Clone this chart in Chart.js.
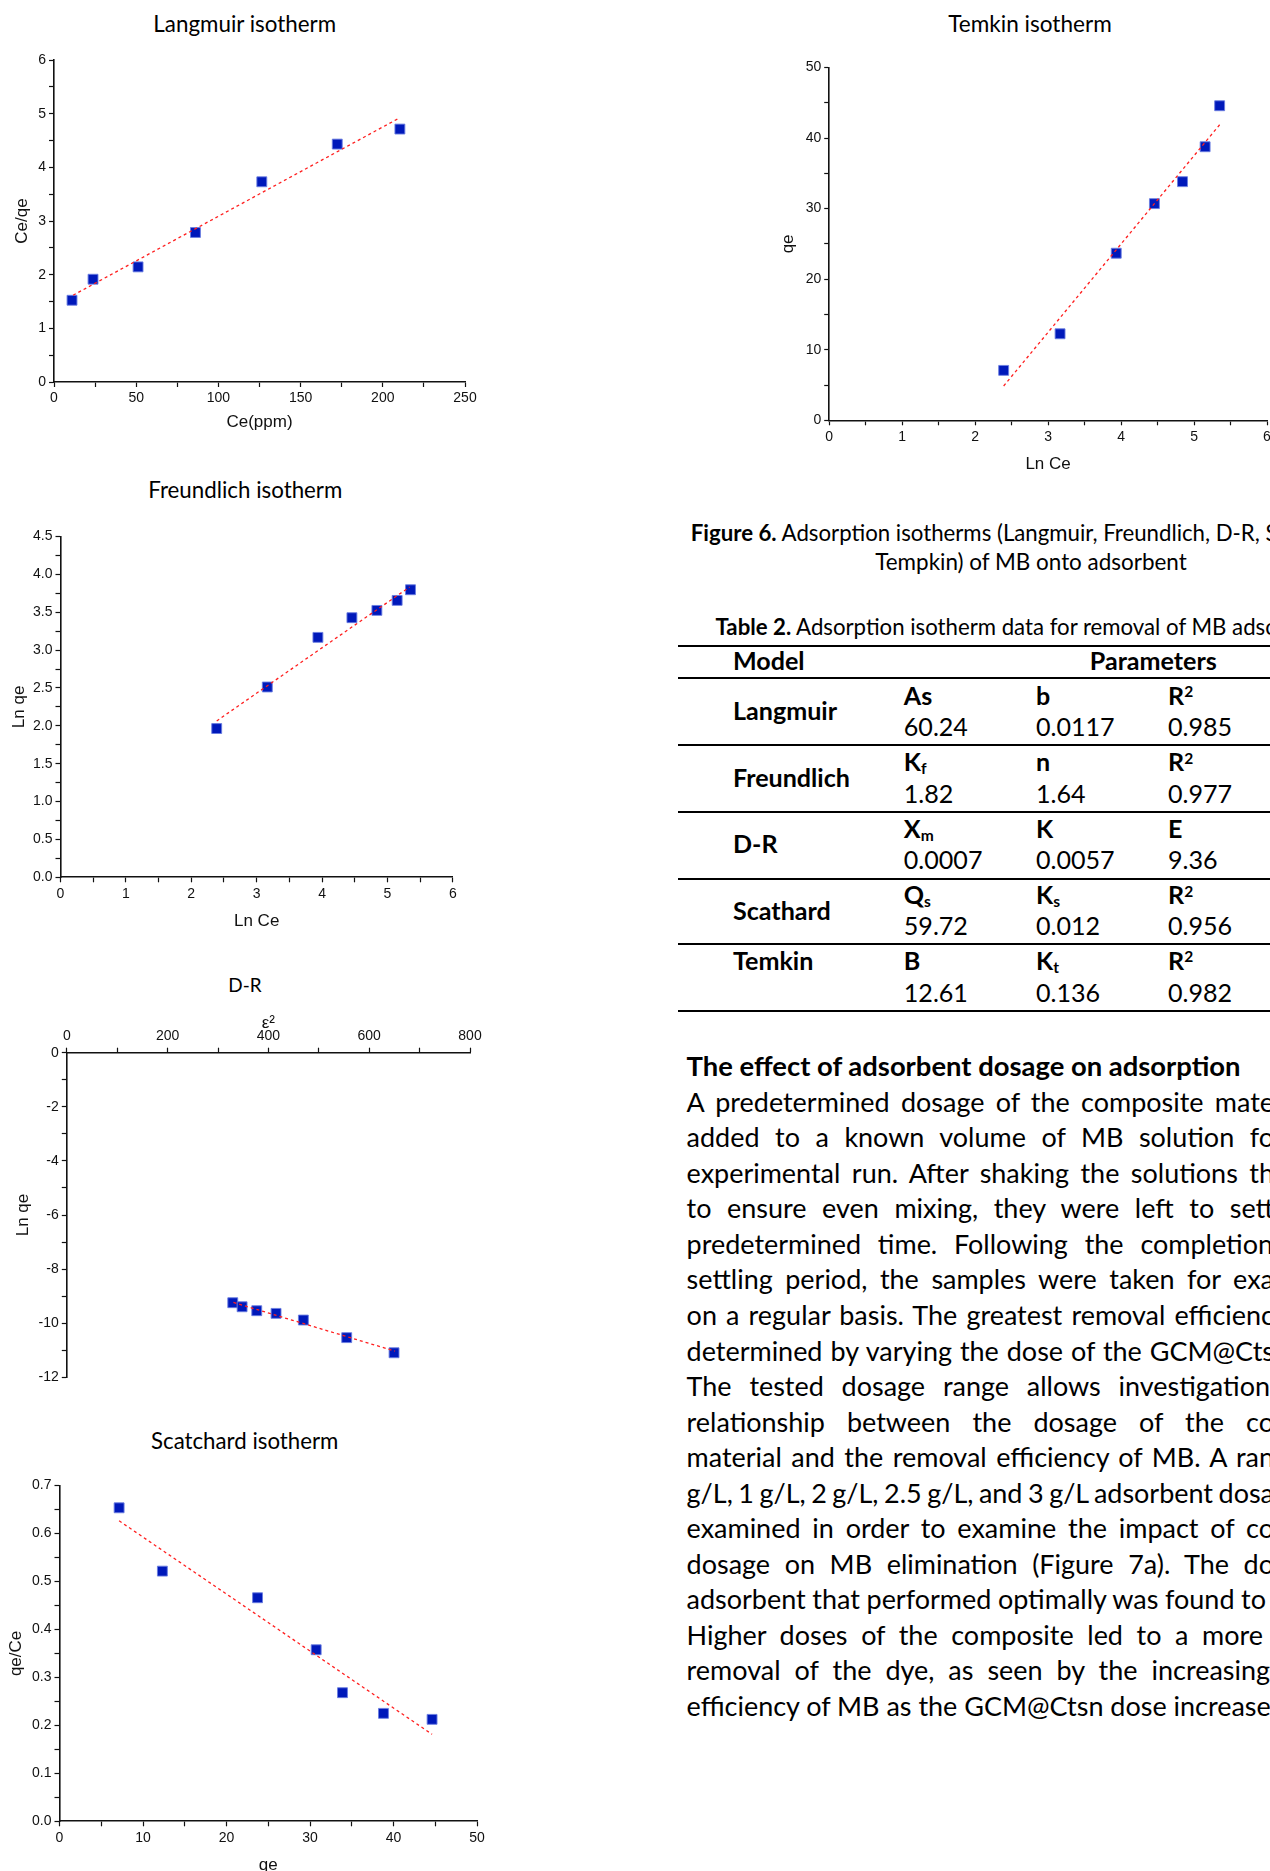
<!DOCTYPE html>
<html>
<head>
<meta charset="utf-8">
<title>Adsorption isotherms</title>
<script src="https://cdn.jsdelivr.net/npm/chart.js@4.4.1/dist/chart.umd.min.js"></script>
<style>
  html, body { margin:0; padding:0; background:#fff; }
  #page { position:relative; width:1270px; height:1871px; overflow:hidden; background:#fff; color:#000;
          font-family: Lato, 'Open Sans', 'DejaVu Sans', sans-serif; }
  .t { position:absolute; white-space:nowrap; line-height:1; }
  canvas { position:absolute; }
  .hl { position:absolute; left:678px; width:700px; height:2px; background:#000; }
  .sub { font-size:.62em; position:relative; top:.2em; }
  .sup { font-size:.62em; position:relative; top:-.48em; }
</style>
</head>
<body>
<div id="page"></div>
<script>
// ------------------------- DATA -------------------------
const langmuirX = [10.96, 23.74, 51.14, 86.04, 126.4, 172.3, 210.4];      // Ce (ppm)
const langmuirY = [1.523, 1.915, 2.145, 2.786, 3.731, 4.433, 4.713];      // Ce/qe
const langmuirFitX = [11.6, 210.4];
const langmuirFitY = [1.617, 4.925];

const freundlichX = [2.389, 3.163, 3.937, 4.457, 4.839, 5.149, 5.353];   // Ln Ce
const freundlichY = [1.964, 2.513, 3.168, 3.428, 3.524, 3.656, 3.797];   // Ln qe
const freundlichFitX = [2.389, 5.338];
const freundlichFitY = [2.065, 3.832];

const drX = [329.3, 347.8, 376.9, 415.2, 469.4, 555.4, 649.3];            // epsilon^2
const drY = [-9.24, -9.39, -9.535, -9.634, -9.88, -10.53, -11.09];        // Ln qe
const drFitX = [330.6, 651.2];
const drFitY = [-9.23, -11.03];

const scatX = [7.14, 12.32, 23.72, 30.74, 33.89, 38.8, 44.62];            // qe
const scatY = [0.6535, 0.5215, 0.466, 0.3576, 0.2681, 0.225, 0.2125];     // qe/Ce
const scatFitX = [7.14, 44.62];
const scatFitY = [0.6264, 0.1813];

const temkinX = [2.391, 3.164, 3.934, 4.457, 4.842, 5.152, 5.351];       // Ln Ce
const temkinY = [7.075, 12.26, 23.68, 30.71, 33.82, 38.77, 44.58];       // qe
const temkinFitX = [2.391, 5.351];
const temkinFitY = [4.858, 41.89];

// axis ranges: [min, max, major step, minor step, decimals]
const langmuirXAxis = [0, 250, 50, 25, 0];
const langmuirYAxis = [0, 6, 1, 0.5, 0];
const freundlichXAxis = [0, 6, 1, 0.5, 0];
const freundlichYAxis = [0, 4.5, 0.5, 0.25, 1];
const drXAxis = [0, 800, 200, 100, 0];
const drYAxis = [-12, 0, 2, 1, 0];
const scatXAxis = [0, 50, 10, 5, 0];
const scatYAxis = [0, 0.7, 0.1, 0.05, 1];
const temkinXAxis = [0, 6, 1, 0.5, 0];
const temkinYAxis = [0, 50, 10, 5, 0];

// table
const tableModels = ["Langmuir", "Freundlich", "D-R", "Scathard", "Temkin"];
const tableParamNames = [
  ["As", "b", "R<span class=\"sup\">2</span>"],
  ["K<span class=\"sub\">f</span>", "n", "R<span class=\"sup\">2</span>"],
  ["X<span class=\"sub\">m</span>", "K", "E"],
  ["Q<span class=\"sub\">s</span>", "K<span class=\"sub\">s</span>", "R<span class=\"sup\">2</span>"],
  ["B", "K<span class=\"sub\">t</span>", "R<span class=\"sup\">2</span>"]
];
const tableParamValues = [
  ["60.24", "0.0117", "0.985"],
  ["1.82", "1.64", "0.977"],
  ["0.0007", "0.0057", "9.36"],
  ["59.72", "0.012", "0.956"],
  ["12.61", "0.136", "0.982"]
];

const bodyLines = [
  "A predetermined dosage of the composite mate",
  "added to a known volume of MB solution fo",
  "experimental run. After shaking the solutions th",
  "to ensure even mixing, they were left to sett",
  "predetermined time. Following the completion",
  "settling period, the samples were taken for exa",
  "on a regular basis. The greatest removal efficienc",
  "determined by varying the dose of the GCM@Cts",
  "The tested dosage range allows investigation",
  "relationship between the dosage of the co",
  "material and the removal efficiency of MB. A ran",
  "g/L, 1 g/L, 2 g/L, 2.5 g/L, and 3 g/L adsorbent dosa",
  "examined in order to examine the impact of co",
  "dosage on MB elimination (Figure 7a). The do",
  "adsorbent that performed optimally was found to",
  "Higher doses of the composite led to a more",
  "removal of the dye, as seen by the increasing",
  "efficiency of MB as the GCM@Ctsn dose increase"
];

// ------------------------- LAYOUT HELPERS -------------------------
const page = document.getElementById('page');
const SANS = "'Liberation Sans', Arial, sans-serif";
Chart.defaults.font.family = SANS;
Chart.defaults.color = '#000';

function addText(html, o) {
  const d = document.createElement('div');
  d.className = 't';
  d.innerHTML = html;
  let size = o.size || 20;
  d.style.fontSize = size + 'px';
  if (o.bold) d.style.fontWeight = '700';
  page.appendChild(d);
  if (o.fit) {
    for (let k = 0; k < 3; k++) {
      const m = d.querySelector('.m') || d;
      const w = m.getBoundingClientRect().width;
      size = size * o.fit / w;
      d.style.fontSize = size + 'px';
    }
  }
  const w2 = d.getBoundingClientRect().width;
  let left = o.x;
  if (o.align === 'center') left = o.x - w2 / 2;
  d.style.left = left + 'px';
  d.style.top = (o.cy - size * 0.55) + 'px';
  return { el: d, size: size };
}

function isMajor(v, major) {
  const r = v / major;
  return Math.abs(r - Math.round(r)) < 1e-6;
}

function axisOpts(ax, pos, titleText, titlePad, afterFit) {
  const [mn, mx, major, minor, dec] = ax;
  return {
    type: 'linear', position: pos, min: mn, max: mx,
    afterFit: afterFit,
    ticks: {
      stepSize: minor, autoSkip: false, maxRotation: 0, minRotation: 0,
      font: { family: SANS, size: 14 }, color: '#111', padding: 3,
      callback: (v) => isMajor(v, major) ? (Math.round(v / major) * major).toFixed(dec) : ''
    },
    grid: { drawOnChartArea: false, drawTicks: true, tickLength: 5, tickColor: '#111', tickWidth: 1.2 },
    border: { display: true, color: '#111', width: 1.6 },
    title: { display: true, text: titleText, font: { family: SANS, size: 17 }, color: '#111', padding: titlePad }
  };
}

function buildChart(o) {
  const c = document.createElement('canvas');
  c.width = o.box.w; c.height = o.box.h;
  c.style.left = o.box.x + 'px'; c.style.top = o.box.y + 'px';
  c.style.width = o.box.w + 'px'; c.style.height = o.box.h + 'px';
  page.appendChild(c);
  const top = o.xPos === 'top';
  const xH = top ? (o.plot.t - o.box.y) : (o.box.y + o.box.h - o.plot.b);
  const yW = o.plot.l - o.box.x;
  const lh = 17 * 1.2;
  const xPad = top ? { top: o.xTitleY - o.box.y - lh / 2, bottom: 0 }
                   : { top: 0, bottom: o.box.y + o.box.h - o.xTitleY - lh / 2 };
  const yPad = { top: o.yTitleX - o.box.x - lh / 2, bottom: 0 };
  new Chart(c, {
    type: 'scatter',
    data: {
      datasets: [
        { data: o.fitX.map((x, i) => ({ x: x, y: o.fitY[i] })), showLine: true,
          borderColor: '#ff1f1f', borderWidth: 1.3, borderDash: [3, 3], pointRadius: 0, fill: false },
        { data: o.xs.map((x, i) => ({ x: x, y: o.ys[i] })), showLine: false, pointStyle: 'rect',
          pointRadius: 7, backgroundColor: '#0019ba', borderColor: 'rgba(105,125,225,0.9)', borderWidth: 1 }
      ]
    },
    options: {
      responsive: false, animation: false, devicePixelRatio: 1,
      layout: { padding: {
        left: 0,
        top: top ? 0 : (o.plot.t - o.box.y),
        right: o.box.x + o.box.w - o.plot.r,
        bottom: top ? (o.box.y + o.box.h - o.plot.b) : 0 } },
      plugins: { legend: { display: false }, tooltip: { enabled: false } },
      scales: {
        x: axisOpts(o.xAxis, top ? 'top' : 'bottom', o.xTitle, xPad, (s) => { s.height = xH; }),
        y: axisOpts(o.yAxis, 'left', o.yTitle, yPad, (s) => { s.width = yW; })
      }
    }
  });
}

// ------------------------- CHARTS -------------------------
buildChart({ box: { x: 0, y: 40, w: 490, h: 400 }, plot: { l: 54, t: 60, r: 465, b: 382 },
  xTitleY: 422.5, yTitleX: 22.7, xAxis: langmuirXAxis, yAxis: langmuirYAxis,
  xTitle: 'Ce(ppm)', yTitle: 'Ce/qe', xs: langmuirX, ys: langmuirY, fitX: langmuirFitX, fitY: langmuirFitY });

buildChart({ box: { x: 0, y: 510, w: 480, h: 430 }, plot: { l: 60.5, t: 536.5, r: 452.8, b: 877.3 },
  xTitleY: 921.5, yTitleX: 19.5, xAxis: freundlichXAxis, yAxis: freundlichYAxis,
  xTitle: 'Ln Ce', yTitle: 'Ln qe', xs: freundlichX, ys: freundlichY, fitX: freundlichFitX, fitY: freundlichFitY });

buildChart({ box: { x: 0, y: 1000, w: 495, h: 400 }, plot: { l: 66.8, t: 1052.7, r: 470, b: 1377.4 },
  xPos: 'top', xTitleY: 1023.3, yTitleX: 23, xAxis: drXAxis, yAxis: drYAxis,
  xTitle: 'ε²', yTitle: 'Ln qe', xs: drX, ys: drY, fitX: drFitX, fitY: drFitY });

buildChart({ box: { x: 0, y: 1465, w: 500, h: 415 }, plot: { l: 59.5, t: 1485.5, r: 477, b: 1821.3 },
  xTitleY: 1865, yTitleX: 16.5, xAxis: scatXAxis, yAxis: scatYAxis,
  xTitle: 'qe', yTitle: 'qe/Ce', xs: scatX, ys: scatY, fitX: scatFitX, fitY: scatFitY });

buildChart({ box: { x: 770, y: 40, w: 520, h: 450 }, plot: { l: 829.2, t: 67.5, r: 1267, b: 420.3 },
  xTitleY: 464.5, yTitleX: 788, xAxis: temkinXAxis, yAxis: temkinYAxis,
  xTitle: 'Ln Ce', yTitle: 'qe', xs: temkinX, ys: temkinY, fitX: temkinFitX, fitY: temkinFitY });

// chart titles
addText('Langmuir isotherm', { x: 244.7, cy: 25, align: 'center', size: 22, fit: 182.7 });
addText('Freundlich isotherm', { x: 245.3, cy: 491.7, align: 'center', size: 22, fit: 194 });
addText('D-R', { x: 245, cy: 986.7, align: 'center', size: 22, fit: 33.3 });
addText('Scatchard isotherm', { x: 244.7, cy: 1442.7, align: 'center', size: 22, fit: 187.3 });
addText('Temkin isotherm', { x: 1030, cy: 25, align: 'center', size: 22, fit: 163.5 });

// figure caption
addText('<span class="m"><b>Figure 6.</b> Adsorption isotherms (Langmuir, Freundlich, D-R,</span> Scatchard and',
  { x: 690.8, cy: 534, size: 22, fit: 569 });
addText('Tempkin) of MB onto adsorbent', { x: 1031, cy: 563.4, align: 'center', size: 22, fit: 311.5 });

// table caption
addText('<span class="m"><b>Table 2.</b> Adsorption isotherm data for removal of MB</span> adsorption onto composite',
  { x: 715.5, cy: 628.6, size: 22, fit: 511 });

// table
[645.7, 678, 745, 811.6, 878.5, 944, 1010.5].forEach(y => {
  const l = document.createElement('div'); l.className = 'hl'; l.style.top = (y - 1) + 'px'; page.appendChild(l);
});
const tSize = addText('Parameters', { x: 1089.8, cy: 661.5, size: 26, bold: true, fit: 127 }).size;
addText('Model', { x: 733, cy: 661.5, size: tSize, bold: true });
const colX = [903.8, 1036, 1168];
const rowA = [696.5, 763, 829.8, 895.8, 961.5];
const rowB = [728, 794.5, 861, 927.2, 993.8];
const modelY = [712, 779, 845, 911.5, 961.5];
tableModels.forEach((m, i) => {
  addText(m, { x: 733, cy: modelY[i], size: tSize, bold: true });
  tableParamNames[i].forEach((p, j) => addText(p, { x: colX[j], cy: rowA[i], size: tSize, bold: true }));
  tableParamValues[i].forEach((v, j) => addText(v, { x: colX[j], cy: rowB[i], size: tSize }));
});

// heading and body text
addText('The effect of adsorbent dosage on adsorption', { x: 686.6, cy: 1067, size: 26, bold: true, fit: 554 });
const bodyLeft = 686.6, bodyTop = 1103.5, bodyStep = 35.55;
const bodyEnds = [1274, 1274, 1274, 1274, 1273, 1274, 1274, 1274, 1270, 1274, 1274, 1274, 1274, 1274, 1266, 1263, 1270, null];
const last = bodyLines.length - 1;
const bodySize = addText(bodyLines[last], { x: bodyLeft, cy: bodyTop + last * bodyStep, size: 26, fit: 584 }).size;
bodyLines.forEach((line, i) => {
  if (i === last) return;
  const r = addText(line, { x: bodyLeft, cy: bodyTop + i * bodyStep, size: bodySize });
  const w = r.el.getBoundingClientRect().width;
  const spaces = (line.match(/ /g) || []).length;
  if (bodyEnds[i] && spaces) {
    let ws = (bodyEnds[i] - bodyLeft - w) / spaces;
    if (ws < -2.5) ws = -2.5;
    r.el.style.wordSpacing = ws + 'px';
  }
});
</script>
</body>
</html>
